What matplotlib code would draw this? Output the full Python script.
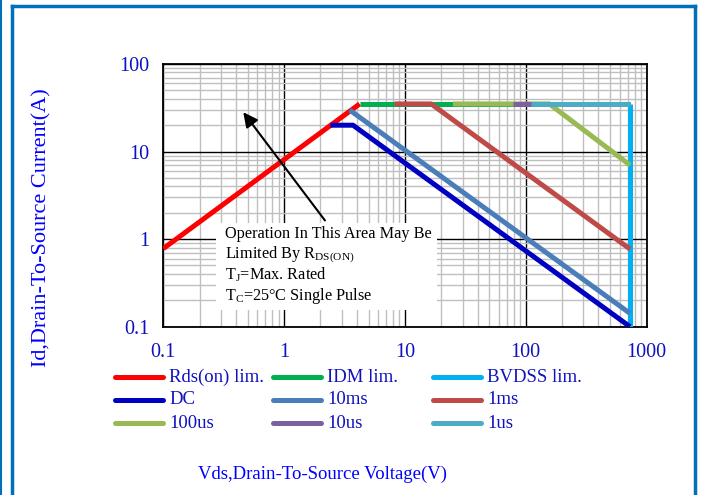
import matplotlib
matplotlib.use('Agg')
import matplotlib.pyplot as plt
from matplotlib.lines import Line2D
from matplotlib.patches import Rectangle

plt.rcParams['font.family'] = 'Liberation Serif'
plt.rcParams['mathtext.fontset'] = 'custom'
plt.rcParams['mathtext.rm'] = 'Liberation Serif'
plt.rcParams['mathtext.it'] = 'Liberation Serif:italic'

# SOA curve corners (Vds in V, Id in A)
rds_v = [0.1, 4.22]
rds_i = [0.78, 35]
idm_v = [4.22, 730]
idm_i = [35, 35]
bvdss_v = [730, 730]
bvdss_i = [35, 0.1]
dc_v = [2.42, 3.72, 730]
dc_i = [20, 20, 0.1]
ms10_v = [3.49, 730]
ms10_i = [29.8, 0.142]
ms1_v = [8.2, 16.5, 730]
ms1_i = [35, 35, 0.77]
us100_v = [25, 157, 730]
us100_i = [35, 35, 7.0]
us10_v = [78, 730]
us10_i = [35, 35]
us1_v = [111, 730]
us1_i = [35, 35]

labels = ['Rds(on) lim.', 'IDM lim.', 'BVDSS lim.', 'DC', '10ms', '1ms',
          '100us', '10us', '1us']
colors = ['#FF0000', '#00B050', '#00B0F0', '#0000C0', '#4A7EBB', '#BE4B48',
          '#98B954', '#7D60A0', '#4BACC6']
series = [(rds_v, rds_i), (idm_v, idm_i), (bvdss_v, bvdss_i), (dc_v, dc_i),
          (ms10_v, ms10_i), (ms1_v, ms1_i), (us100_v, us100_i),
          (us10_v, us10_i), (us1_v, us1_i)]

W, H = 701, 495
def fx(px):
    return px / W
def fy(py):
    return 1 - py / H

fig = plt.figure(figsize=(W / 100, H / 100), dpi=100)
ax = fig.add_axes([fx(163.3), fy(326.7), (646.5 - 163.3) / W, (326.7 - 64) / H])

for (v, i), c in zip(series, colors):
    ax.plot(v, i, color=c, lw=3.6, solid_capstyle='butt', zorder=4)

ax.set_xscale('log')
ax.set_yscale('log')
ax.set_xlim(0.1, 1000)
ax.set_ylim(0.1, 100)
ax.set_xticks([0.1, 1, 10, 100, 1000])
ax.set_xticklabels(['0.1', '1', '10', '100', '1000'])
ax.set_yticks([0.1, 1, 10, 100])
ax.set_yticklabels(['0.1', '1', '10', '100'])
ax.grid(which='minor', color='#BFBFBF', lw=1.0)
ax.grid(which='major', color='black', lw=1.0)
ax.set_axisbelow(True)
ax.tick_params(which='both', length=0, labelsize=14.5, labelcolor='#1010C0')
ax.tick_params(axis='y', pad=10)
ax.tick_params(axis='x', pad=12)
for s in ax.spines.values():
    s.set_linewidth(1.3)
    s.set_color('black')

# note box
ax.add_patch(Rectangle((0.109, 0.064), 0.457, 0.331, transform=ax.transAxes,
                       facecolor='white', edgecolor='none', zorder=5))
notes = ['Operation In This Area May Be',
         r'Limited By R$_{\mathrm{DS(ON)}}$',
         r'T$_{\mathrm{J}}$=Max. Rated',
         r'T$_{\mathrm{C}}$=25°C Single Pulse']
for k, t in enumerate(notes):
    ax.text((225 - 163.3) / 483.2, (326.7 - (234 + 20.5 * k)) / 262.7, t,
            transform=ax.transAxes, ha='left', va='center', fontsize=11.7,
            color='black', zorder=6)
ax.annotate('', xy=(0.162, 0.825), xytext=(0.338, 0.396),
            xycoords='axes fraction', textcoords='axes fraction',
            arrowprops=dict(arrowstyle='-|>', color='black', lw=1.5,
                            mutation_scale=22), zorder=6)

# legend, 3 columns row by row
col_x = [115, 273, 433]
row_y = [377, 400, 423]
for n, (lab, c) in enumerate(zip(labels, colors)):
    r, k = divmod(n, 3)
    x0 = col_x[k]
    fig.add_artist(Line2D([fx(x0), fx(x0 + 48)], [fy(row_y[r])] * 2, color=c,
                          lw=3.6, solid_capstyle='round'))
    fig.text(fx(x0 + 54), fy(row_y[r]), lab, ha='left', va='center',
             fontsize=13.5, color='#1010C0')

fig.text(fx(42), fy(228), 'Id,Drain-To-Source Current(A)', rotation=90,
         ha='center', va='center', fontsize=16, color='#0000FF')
fig.text(fx(322), fy(474), 'Vds,Drain-To-Source Voltage(V)', ha='center',
         va='center', fontsize=13.5, color='#0000FF')

# page frame
frame = '#0070B8'
fig.add_artist(Line2D([fx(12), fx(12)], [fy(6), 0], color=frame, lw=2.5))
fig.add_artist(Line2D([fx(12), fx(695)], [fy(6), fy(6)], color=frame, lw=2.5))
fig.add_artist(Line2D([fx(695), fx(695)], [fy(6), 0], color=frame, lw=2.5))
fig.add_artist(Line2D([fx(0.5), fx(0.5)], [1, 0], color=frame, lw=1.5))

fig.savefig('out.png', dpi=100)
